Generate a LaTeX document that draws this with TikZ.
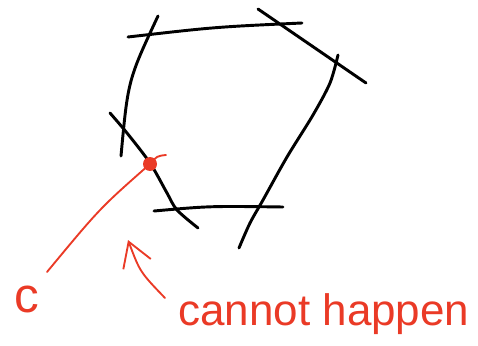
\documentclass[tikz,border=0pt]{standalone}
\usepackage{fontspec}
\setmainfont{Liberation Sans}
\usetikzlibrary{arrows.meta}
\definecolor{inkred}{RGB}{234,58,38}
\begin{document}
\begin{tikzpicture}[x=0.75pt, y=-0.75pt, line cap=round, line join=round,
    >={Straight Barb[length=18pt, width=22pt]},
    edge/.style={black, line width=2.2pt},
    redpen/.style={inkred, line width=1.4pt},
    dot/.style={circle, fill=inkred, inner sep=0pt, minimum size=10.5pt},
    hand/.style={inkred, inner sep=0pt, font=\fontsize{33}{40}\selectfont}]
  \useasboundingbox (0,0) rectangle (478,346);
  % the cell: six sides, each running past its corners
  \foreach \a/\b/\c/\d/\e/\f in {128/37/215/27/302/23, 158/16/128/80/121/156,
      258/9/312/46/366/83, 154/211/210/206/283/207}{
    \draw[edge] (\a,\b) .. controls (\c,\d) .. (\e,\f);
  }
  \draw[edge] plot[smooth] coordinates {(338,55) (330,83) (313,115) (287,157)
      (263,200) (250,223) (239,248)};
  \draw[edge] plot[smooth] coordinates {(110,113) (127,133) (150,163) (167,193)
      (177,210) (198,228)};
  % the crossing point and its labels
  \node[dot] (pin) at (150,164) {};
  \draw[redpen] (pin.center) .. controls (157,156) .. (166,155);
  \coordinate (ctip) at (47,272);
  \draw[redpen] (pin.center) .. controls (100,208) .. (ctip);
  \node[hand, font=\fontsize{37}{40}\selectfont, anchor=base] (clabel) at (27,312) {c};
  \coordinate (atail) at (165,298);
  \coordinate (ahead) at (128,240);
  \draw[redpen, ->] (atail) .. controls (140,272) .. (ahead);
  \node[hand, anchor=base west] (note) at (178,325) {cannot happen};
\end{tikzpicture}
\end{document}
